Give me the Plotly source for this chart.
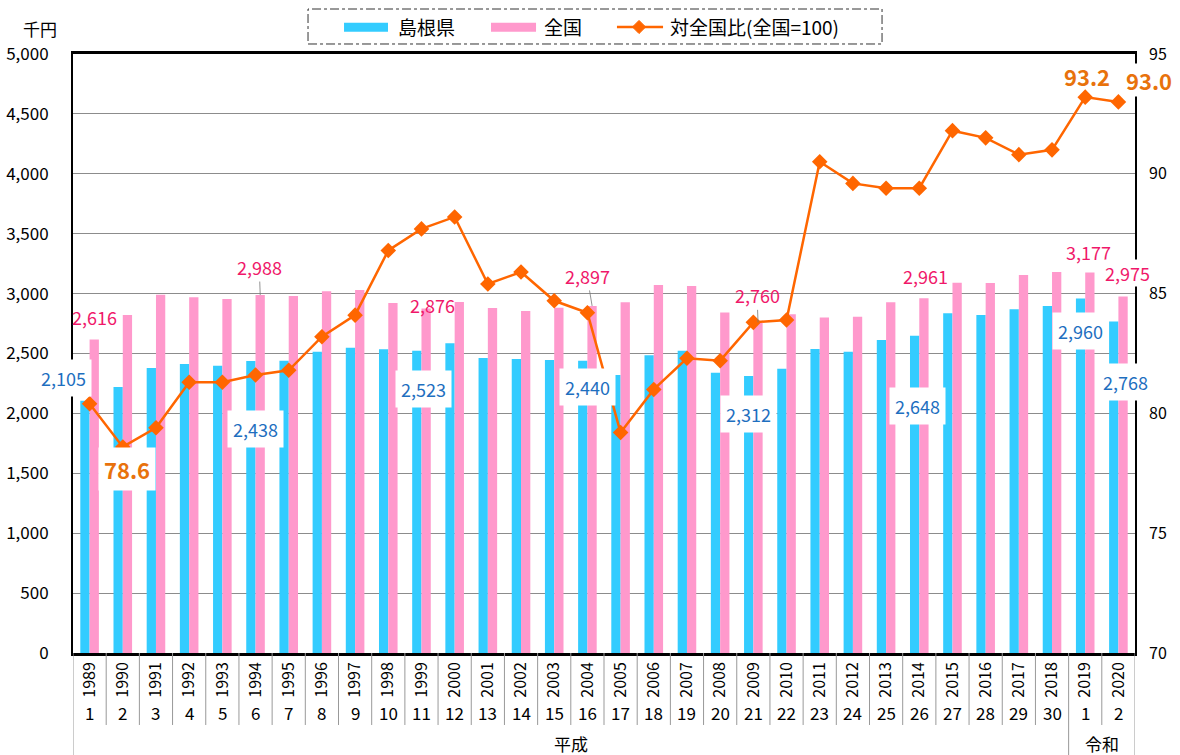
import plotly.graph_objects as go

years = [str(y) for y in range(1989, 2021)]
era_nums = [str(n) for n in range(1, 31)] + ["1", "2"]
shimane = [2105, 2220, 2379, 2412, 2398, 2438, 2440, 2515, 2549, 2535, 2523, 2585,
           2462, 2454, 2445, 2440, 2320, 2485, 2523, 2340, 2312, 2373, 2537, 2515,
           2613, 2648, 2835, 2821, 2869, 2896, 2960, 2768]
zenkoku = [2616, 2821, 2990, 2970, 2955, 2988, 2980, 3020, 3030, 2921, 2876, 2930,
           2880, 2855, 2882, 2897, 2927, 3072, 3063, 2843, 2760, 2827, 2800, 2807,
           2927, 2961, 3091, 3088, 3155, 3180, 3177, 2975]
ratio = [80.4, 78.6, 79.4, 81.3, 81.3, 81.6, 81.8, 83.2, 84.1, 86.8, 87.7, 88.2,
         85.4, 85.9, 84.7, 84.2, 79.2, 81.0, 82.3, 82.2, 83.8, 83.9, 90.5, 89.6,
         89.4, 89.4, 91.8, 91.5, 90.8, 91.0, 93.2, 93.0]
eras = ["平成", "令和"]
series_names = ["島根県", "全国", "対全国比(全国=100)"]
unit_label = "千円"

FONT = "Noto Sans CJK JP"
BLUE = "#33CCFF"
PINK = "#FF99CC"
ORANGE = "#FF6600"
BLUE_TXT = "#1E6FBF"
PINK_TXT = "#F0186A"
ORANGE_TXT = "#E8720C"

fig = go.Figure()
fig.add_trace(go.Bar(x=years, y=shimane, name=series_names[0],
                     marker=dict(color=BLUE, line=dict(width=0))))
fig.add_trace(go.Bar(x=years, y=zenkoku, name=series_names[1],
                     marker=dict(color=PINK, line=dict(width=0))))
fig.add_trace(go.Scatter(x=years, y=ratio, name=series_names[2], yaxis="y2",
                         mode="lines+markers",
                         line=dict(color=ORANGE, width=2.5),
                         marker=dict(symbol="diamond", size=12, color=ORANGE)))

ann = []
# blue labels (index, xshift, yshift)
blue_lab = [(0, -26, 23), (5, 0, -68), (10, 2, -38), (15, 0, -26),
            (20, -5, -38), (25, -2, -70), (30, -5, -33), (31, 7, -61)]
for i, dx, dy in blue_lab:
    ann.append(dict(x=i, y=shimane[i], xref="x", yref="y", text=f"{shimane[i]:,}",
                    showarrow=False, xshift=dx, yshift=dy, bgcolor="white",
                    borderpad=5, font=dict(family=FONT, size=18, color=BLUE_TXT)))
# pink labels without leader
pink_lab = [(0, 5, 23), (10, 11, 3), (25, 6, 22), (30, 3, 20), (31, 9, 24)]
for i, dx, dy in pink_lab:
    ann.append(dict(x=i, y=zenkoku[i], xref="x", yref="y", text=f"{zenkoku[i]:,}",
                    showarrow=False, xshift=dx, yshift=dy,
                    bgcolor="white" if i == 31 else "rgba(0,0,0,0)", borderpad=0,
                    font=dict(family=FONT, size=18, color=PINK_TXT)))
# pink labels with leader lines
pink_lead = [(5, -1, -28), (15, -5, -30), (20, -1, -27)]
for i, ax, ay in pink_lead:
    ann.append(dict(x=i, y=zenkoku[i], xref="x", yref="y", text=f"{zenkoku[i]:,}",
                    showarrow=True, arrowhead=0, arrowwidth=0.8, arrowcolor="#777777",
                    ax=ax, ay=ay, xshift=4.7, standoff=0,
                    font=dict(family=FONT, size=18, color=PINK_TXT)))
# ratio labels
ratio_lab = [(1, 4, -22, True, 5), (30, 2, 21, False, 0), (31, 31, 22, True, 0)]
for i, dx, dy, bg, pad in ratio_lab:
    ann.append(dict(x=i, y=ratio[i], xref="x", yref="y2", text=f"<b>{ratio[i]:.1f}</b>",
                    showarrow=False, xshift=dx, yshift=dy,
                    bgcolor="white" if bg else "rgba(0,0,0,0)", borderpad=pad,
                    font=dict(family=FONT, size=22, color=ORANGE_TXT)))
# era numbers
for i, t in enumerate(era_nums):
    ann.append(dict(x=i, y=-0.100, xref="x", yref="paper", yanchor="middle", text=t,
                    showarrow=False, font=dict(family=FONT, size=17, color="black")))
ann.append(dict(x=14.5, y=-0.151, xref="x", yref="paper", yanchor="middle", text=eras[0],
                showarrow=False, font=dict(family=FONT, size=17, color="black")))
ann.append(dict(x=30.5, y=-0.151, xref="x", yref="paper", yanchor="middle", text=eras[1],
                showarrow=False, font=dict(family=FONT, size=17, color="black")))
ann.append(dict(x=-0.031, y=1.042, xref="paper", yref="paper", xanchor="center",
                yanchor="middle", text=unit_label,
                showarrow=False, font=dict(family=FONT, size=17, color="black")))

shapes = []
for b in range(len(years) + 1):
    long = b in (0, 30, len(years))
    shapes.append(dict(type="line", xref="x", yref="paper", x0=b - 0.5, x1=b - 0.5,
                       y0=0, y1=-0.171 if long else -0.1202,
                       line=dict(color="#999999", width=1)))

# custom legend
shapes.append(dict(type="rect", xref="paper", yref="paper", x0=0.2213, x1=0.7618,
                   y0=1.0167, y1=1.0751, line=dict(color="#333333", width=1, dash="dashdot")))
shapes.append(dict(type="rect", xref="paper", yref="paper", x0=0.2552, x1=0.2966,
                   y0=1.0372, y1=1.0522, fillcolor=BLUE, line=dict(width=0)))
shapes.append(dict(type="rect", xref="paper", yref="paper", x0=0.3936, x1=0.4360,
                   y0=1.0372, y1=1.0522, fillcolor=PINK, line=dict(width=0)))
shapes.append(dict(type="line", xref="paper", yref="paper", x0=0.5122, x1=0.5556,
                   y0=1.0451, y1=1.0451, line=dict(color=ORANGE, width=2.5)))
cx, cy, hx, hy = 0.5330, 1.0451, 0.0062, 0.0110
shapes.append(dict(type="path", xref="paper", yref="paper",
                   path=f"M {cx-hx},{cy} L {cx},{cy+hy} L {cx+hx},{cy} L {cx},{cy-hy} Z",
                   fillcolor=ORANGE, line=dict(color=ORANGE, width=1)))
for name, xp in zip(series_names, [0.3041, 0.4416, 0.5603]):
    ann.append(dict(x=xp, y=1.0451, xref="paper", yref="paper", text=name,
                    showarrow=False, xanchor="left", yanchor="middle",
                    font=dict(family=FONT, size=19, color="black")))

fig.update_layout(
    width=1180, height=755,
    margin=dict(l=73, r=45, t=54, b=102, autoexpand=False),
    plot_bgcolor="white", paper_bgcolor="white",
    font=dict(family=FONT, size=16, color="black"),
    barmode="group", bargap=0.44, bargroupgap=0,
    showlegend=False,
    xaxis=dict(type="category", range=[-0.5, 31.5], tickangle=-90, ticks="",
               tickfont=dict(family=FONT, size=16), showline=True, mirror=True,
               linecolor="black", linewidth=2.5, showgrid=False, automargin=False),
    yaxis=dict(range=[0, 5000], dtick=500, tickformat=",", showgrid=True,
               gridcolor="#8C8C8C", gridwidth=1, zeroline=False, showline=True,
               mirror=True, linecolor="black", linewidth=2, automargin=False,
               ticklabelstandoff=19, tickfont=dict(family=FONT, size=17)),
    yaxis2=dict(range=[70, 95], dtick=5, overlaying="y", side="right", showgrid=False,
                zeroline=False, showline=False, tickfont=dict(family=FONT, size=16),
                ticklabelstandoff=13, automargin=False),
    annotations=ann,
    shapes=shapes,
)

fig.write_html("out.html", config={"displayModeBar": False},
               post_script="document.body.style.margin='0';"
                           "document.documentElement.style.overflow='hidden';")
